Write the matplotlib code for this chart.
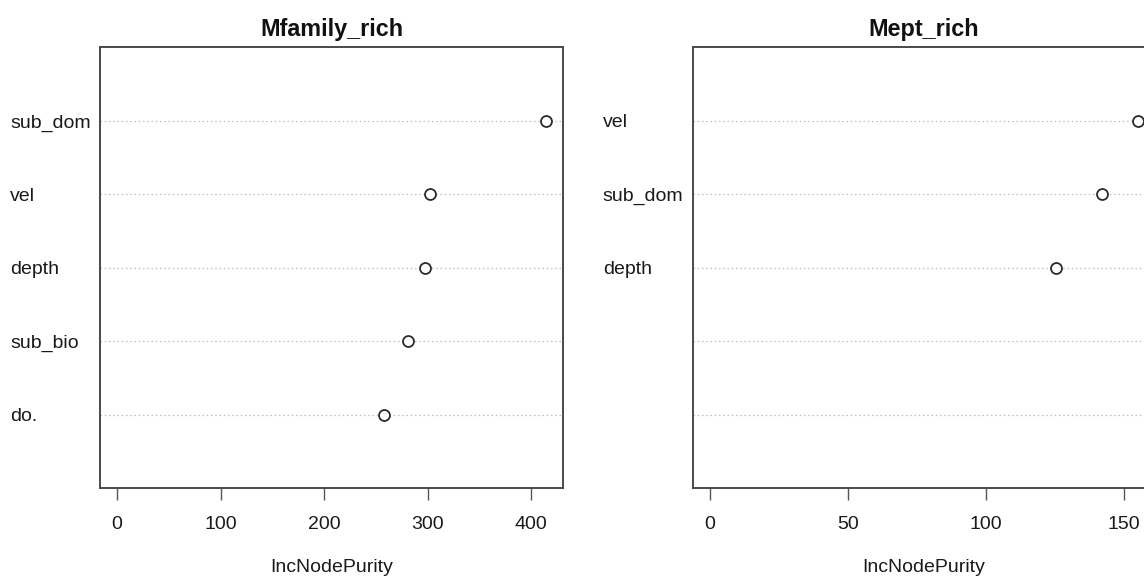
import numpy as np
import matplotlib
matplotlib.use("Agg")
import matplotlib.pyplot as plt
from matplotlib.transforms import blended_transform_factory

plt.rcParams['font.family'] = ['Liberation Sans', 'DejaVu Sans']

# Variable importance (IncNodePurity) for two random-forest models,
# listed top row first.
family_labels = ["sub_dom", "vel", "depth", "sub_bio", "do."]
family_values = [414, 302, 297, 281, 258]

ept_labels = ["vel", "sub_dom", "depth", "", ""]
ept_values = [155.0, 142.0, 125.3, np.nan, np.nan]

family_ticks = [0, 100, 200, 300, 400]
ept_ticks = [0, 50, 100, 150]

titles = ["Mfamily_rich", "Mept_rich"]
xlabel = "IncNodePurity"

W, H = 1144, 577
fig = plt.figure(figsize=(W / 100, H / 100), dpi=100)
fig.patch.set_facecolor("white")

box_top, box_bottom = 47.3, 488.0
box_h = box_bottom - box_top
panels = [
    (100.0, 563.0, family_labels, family_values, family_ticks, titles[0]),
    (692.7, 1155.0, ept_labels, ept_values, ept_ticks, titles[1]),
]

text_col = "#1a1a1a"
fs = 14

for left, right, labels, values, ticks, title in panels:
    ax = fig.add_axes([left / W, (H - box_bottom) / H,
                       (right - left) / W, box_h / H])
    n = len(labels)
    ypos = np.arange(n, 0, -1)  # first label on top
    vals = np.asarray(values, dtype=float)

    # dotchart-style x range: from 0 to the max, padded by 4% each side
    lo, hi = 0.0, np.nanmax(vals)
    pad = 0.04 * (hi - lo)
    ax.set_xlim(lo - pad, hi + pad)
    ax.set_ylim(0, n + 1)

    for y in ypos:
        ax.axhline(y, color="#bdbdbd", lw=0.9, ls=(0, (1.2, 2.2)), zorder=1)
    ax.scatter(vals, ypos, s=62, facecolors="white", edgecolors="#2b2b2b",
               linewidths=1.3, zorder=3)

    trans = blended_transform_factory(ax.transAxes, ax.transData)
    off = -90.0 / (right - left)
    for lab, y in zip(labels, ypos):
        ax.text(off, y - 0.03, lab, transform=trans, ha="left", va="center",
                fontsize=fs, color=text_col)

    ax.set_yticks([])
    ax.set_xticks(ticks)
    ax.set_xticklabels([str(t) for t in ticks])
    ax.tick_params(axis="x", direction="out", length=8.5, width=1.0,
                   color="#555555", pad=12, labelsize=fs, labelcolor=text_col)
    for sp in ax.spines.values():
        sp.set_color("#4a4a4a")
        sp.set_linewidth(1.4)

    ax.text(0.5, (box_bottom - 29.5) / box_h, title, transform=ax.transAxes,
            ha="center", va="center", fontsize=16.8, fontweight="bold",
            color="#111111")
    ax.text(0.5, -(568 - box_bottom) / box_h, xlabel, transform=ax.transAxes,
            ha="center", va="center", fontsize=fs, color=text_col)

fig.savefig("out.png", dpi=100)
